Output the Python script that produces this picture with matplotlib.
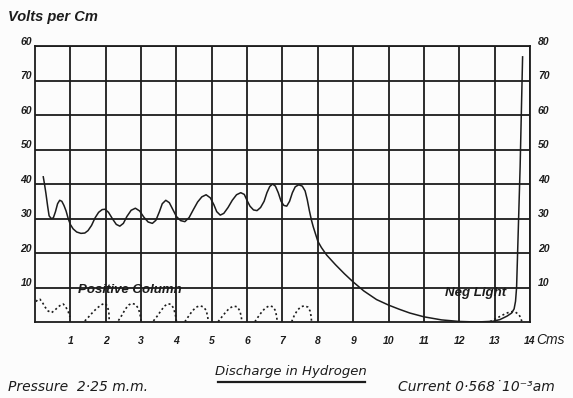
import matplotlib
matplotlib.use("Agg")
import matplotlib.pyplot as plt
import matplotlib.transforms as mtransforms
from matplotlib.lines import Line2D

# Potential gradient along the tube (Volts per cm against distance in cm)
gradient_cm = [0.235, 0.27, 0.31, 0.36, 0.40, 0.46, 0.52, 0.58, 0.64, 0.70, 0.76, 0.82,
               0.88, 0.94, 1.00, 1.08, 1.18, 1.30, 1.41, 1.50, 1.60, 1.70, 1.80, 1.90,
               1.98, 2.08, 2.20, 2.30, 2.40, 2.50, 2.60, 2.72, 2.84, 2.96, 3.08, 3.20,
               3.32, 3.42, 3.52, 3.60, 3.70, 3.80, 3.90, 4.00, 4.12, 4.24, 4.36, 4.48,
               4.60, 4.72, 4.84, 4.96, 5.06, 5.14, 5.24, 5.34, 5.46, 5.58, 5.70, 5.82,
               5.92, 6.00, 6.08, 6.18, 6.28, 6.38, 6.48, 6.56, 6.64, 6.72, 6.80, 6.88,
               6.96, 7.04, 7.12, 7.20, 7.28, 7.36, 7.46, 7.56, 7.64, 7.70, 7.76, 7.82,
               7.87, 8.00, 8.10, 8.25, 8.50, 8.75, 9.00, 9.30, 9.66, 10.00, 10.30,
               10.60, 11.00, 11.50, 12.00, 12.50, 12.95, 13.15, 13.35, 13.48, 13.55,
               13.59, 13.62, 13.72, 13.79]
gradient_v = [42.1, 40.0, 37.3, 33.5, 30.8, 30.0, 30.2, 32.0, 34.3, 35.3, 35.0, 33.8,
              32.2, 30.0, 28.3, 27.0, 26.1, 25.7, 25.8, 26.5, 28.0, 30.2, 31.8, 32.6,
              32.7, 31.8, 29.8, 28.3, 27.8, 28.6, 30.6, 32.4, 33.0, 32.2, 30.4, 29.0,
              28.6, 29.5, 32.0, 34.3, 35.3, 34.6, 32.6, 30.6, 29.4, 29.1, 30.3, 32.6,
              34.8, 36.3, 36.9, 36.0, 34.0, 32.0, 31.0, 31.5, 33.2, 35.3, 36.9, 37.5,
              37.0, 35.2, 33.6, 32.5, 32.3, 33.2, 35.0, 37.5, 39.3, 40.0, 39.4, 37.5,
              35.0, 33.8, 33.6, 35.0, 37.5, 39.2, 39.8, 39.4, 38.0, 35.5, 32.3, 29.5,
              27.6, 23.4, 21.6, 19.4, 16.6, 14.0, 11.6, 9.0, 6.5, 4.9, 3.7,
              2.6, 1.5, 0.6, 0.15, 0.0, 0.2, 0.7, 1.7, 2.6, 3.8,
              6.0, 10.0, 45.0, 76.9]

# Luminosity of the striations (dotted traces)
glow_head_cm = [0.03, 0.08, 0.14, 0.21, 0.28, 0.37, 0.47, 0.57, 0.66, 0.74, 0.80, 0.87,
                0.94, 0.99]
glow_head_v = [5.9, 6.5, 6.6, 5.7, 4.4, 3.2, 2.7, 3.5, 4.4, 5.0, 5.2, 4.4, 3.0, 1.5]
striae_cm = [
    [1.41, 1.53, 1.66, 1.79, 1.90, 1.98, 2.05, 2.09, 2.10],
    [2.36, 2.46, 2.56, 2.66, 2.74, 2.84, 2.92, 2.97, 3.00],
    [3.35, 3.45, 3.56, 3.66, 3.76, 3.85, 3.92, 3.97, 4.00],
    [4.24, 4.34, 4.45, 4.56, 4.66, 4.76, 4.84, 4.88, 4.90],
    [5.18, 5.28, 5.39, 5.50, 5.62, 5.72, 5.79, 5.83, 5.85],
    [6.22, 6.32, 6.42, 6.52, 6.63, 6.73, 6.80, 6.83, 6.85],
    [7.26, 7.33, 7.42, 7.52, 7.62, 7.72, 7.78, 7.81, 7.82],
]
striae_v = [
    [0.3, 1.6, 3.1, 4.3, 5.1, 5.4, 4.6, 2.8, 0.5],
    [0.4, 2.0, 3.8, 5.0, 5.4, 5.1, 4.0, 2.4, 0.4],
    [0.3, 1.6, 3.2, 4.6, 5.3, 5.1, 4.0, 2.2, 0.3],
    [0.1, 1.6, 3.2, 4.3, 4.7, 4.4, 3.4, 1.8, 0.4],
    [0.1, 1.4, 2.8, 4.0, 4.6, 4.4, 3.3, 1.8, 0.4],
    [0.1, 1.6, 3.0, 4.1, 4.7, 4.4, 3.3, 1.8, 0.4],
    [0.1, 1.8, 3.4, 4.4, 4.7, 4.3, 3.2, 1.6, 0.3],
]
neg_light_cm = [12.87, 13.00, 13.15, 13.30, 13.45, 13.58, 13.68, 13.74, 13.77]
neg_light_v = [0.1, 0.8, 1.6, 2.4, 3.0, 2.9, 2.2, 1.2, 0.0]

x_ticks = list(range(1, 15))
y_ticks = [10, 20, 30, 40, 50, 60, 70, 80]
left_labels = ["10", "20", "30", "40", "50", "60", "70", "60"]
right_labels = ["10", "20", "30", "40", "50", "60", "70", "80"]

INK = "#1c1c1c"
NUM_FONT = dict(family="Liberation Sans", weight="bold", style="italic")
TEXT_FONT = dict(family=["DejaVu Sans"], style="italic")

fig = plt.figure(figsize=(5.73, 3.98), dpi=100)
fig.patch.set_facecolor("#fcfcfc")
ax = fig.add_axes([0.061, 0.191, 0.864, 0.693])
ax.set_facecolor("#fcfcfc")
ax.set_xlim(0, 14)
ax.set_ylim(0, 80)

ax.set_xticks(x_ticks)
ax.set_yticks(y_ticks)
ax.grid(True, color=INK, linewidth=1.3)
for spine in ax.spines.values():
    spine.set_color(INK)
    spine.set_linewidth(1.3)
ax.tick_params(length=0, labelsize=7.5, colors=INK)
ax.tick_params(axis="x", pad=10)
ax.set_xticklabels([str(t) for t in x_ticks], **NUM_FONT)

# left and right scales carry different labels, so place them as text
ax.set_yticklabels([])
lift = mtransforms.ScaledTranslation(0, 3 / 72, fig.dpi_scale_trans)
for v, lab in zip(y_ticks, left_labels):
    ax.text(-0.006, v, lab, transform=ax.get_yaxis_transform() + lift,
            ha="right", va="center", fontsize=7.5, color=INK, **NUM_FONT)
for v, lab in zip(y_ticks, right_labels):
    ax.text(1.016, v, lab, transform=ax.get_yaxis_transform() + lift,
            ha="left", va="center", fontsize=7.5, color=INK, **NUM_FONT)

ax.plot(gradient_cm, gradient_v, color=INK, linewidth=1.1, solid_joinstyle="round")

dots = dict(color=INK, linewidth=1.2, linestyle=(0, (1.2, 1.6)))
ax.plot(glow_head_cm, glow_head_v, **dots)
for xs, vs in zip(striae_cm, striae_v):
    ax.plot(xs, vs, **dots)
ax.plot(neg_light_cm, neg_light_v, **dots)

ax.text(1.22, 9.3, "Positive Column", fontsize=9.5, color=INK, va="center",
        family="Liberation Sans", weight="bold", style="italic")
ax.text(11.6, 8.3, "Neg Light", fontsize=9.5, color=INK, va="center",
        family="Liberation Sans", weight="bold", style="italic")
fig.text(0.935, 0.146, "Cms", fontsize=10, color=INK, va="center", ha="left",
         family="Liberation Sans", style="italic")

fig.text(0.014, 0.957, "Volts per Cm", fontsize=10.5, color=INK, va="center",
         family="Liberation Sans", weight="bold", style="italic")
fig.text(0.508, 0.066, "Discharge in Hydrogen", fontsize=9.5, color=INK,
         ha="center", va="center", **TEXT_FONT)
fig.add_artist(Line2D([0.381, 0.637], [0.040, 0.040], color=INK, linewidth=1.6,
                      transform=fig.transFigure))
fig.text(0.014, 0.027, "Pressure  2·25 m.m.", fontsize=10, color=INK,
         va="center", **TEXT_FONT)
fig.text(0.695, 0.027, "Current 0·568˙10⁻³am", fontsize=10, color=INK,
         va="center", **TEXT_FONT)

fig.savefig("out.png", dpi=100, facecolor=fig.get_facecolor())
